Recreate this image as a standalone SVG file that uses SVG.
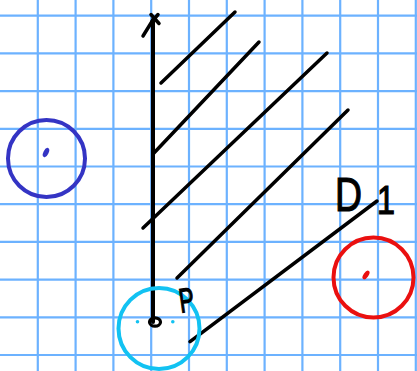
<svg xmlns="http://www.w3.org/2000/svg" width="417" height="371" viewBox="0 0 417 371">
<style>
.grid line{stroke:#6cb2ff;stroke-width:2.2}
.ink{stroke:#000;stroke-width:3.5;stroke-linecap:round;fill:none}
.lbl{font-family:"Liberation Sans",Arial,sans-serif;fill:#000;stroke:#000;stroke-width:1.2}
</style>
<rect width="417" height="371" fill="#fff"/>
<g class="grid" id="grid">
<line x1="37.8" y1="0" x2="37.8" y2="371"/>
<line x1="75.6" y1="0" x2="75.6" y2="371"/>
<line x1="113.4" y1="0" x2="113.4" y2="371"/>
<line x1="151.2" y1="0" x2="151.2" y2="371"/>
<line x1="189" y1="0" x2="189" y2="371"/>
<line x1="226.8" y1="0" x2="226.8" y2="371"/>
<line x1="264.6" y1="0" x2="264.6" y2="371"/>
<line x1="302.4" y1="0" x2="302.4" y2="371"/>
<line x1="340.2" y1="0" x2="340.2" y2="371"/>
<line x1="378" y1="0" x2="378" y2="371"/>
<line x1="415.8" y1="0" x2="415.8" y2="371"/>
<line x1="0" y1="15.7" x2="417" y2="15.7"/>
<line x1="0" y1="53.4" x2="417" y2="53.4"/>
<line x1="0" y1="91.1" x2="417" y2="91.1"/>
<line x1="0" y1="128.8" x2="417" y2="128.8"/>
<line x1="0" y1="166.5" x2="417" y2="166.5"/>
<line x1="0" y1="204.2" x2="417" y2="204.2"/>
<line x1="0" y1="241.9" x2="417" y2="241.9"/>
<line x1="0" y1="279.6" x2="417" y2="279.6"/>
<line x1="0" y1="317.3" x2="417" y2="317.3"/>
<line x1="0" y1="355" x2="417" y2="355"/>
</g>
<g id="hatching" class="ink">
<line x1="161" y1="83" x2="235" y2="12"/>
<line x1="153" y1="154" x2="259" y2="42"/>
<line x1="143" y1="228" x2="327" y2="53"/>
<line x1="177" y1="278" x2="348" y2="110"/>
</g>
<g id="axis" class="ink">
<line x1="153" y1="322" x2="153" y2="20" stroke-width="4"/>
<line x1="143" y1="36" x2="153.5" y2="19"/>
<line x1="151" y1="14.5" x2="159" y2="23.5"/>
<line x1="158" y1="14.5" x2="152" y2="21.5"/>
</g>
<g id="line-D1" class="ink">
<line x1="190" y1="341.7" x2="377" y2="201"/>
</g>
<g id="circle-blue">
<circle cx="46.5" cy="158.5" r="38.5" fill="none" stroke="#3434c4" stroke-width="4"/>
<ellipse cx="46" cy="152.5" rx="2.6" ry="5" transform="rotate(25 46 152.5)" fill="#3434c4"/>
</g>
<g id="circle-cyan">
<circle cx="159" cy="328.5" r="40.5" fill="none" stroke="#12c2f2" stroke-width="4"/>
<circle cx="137.5" cy="321.7" r="1.8" fill="#12c2f2"/>
<circle cx="172.8" cy="321.7" r="1.8" fill="#12c2f2"/>
<ellipse cx="155" cy="322" rx="5.5" ry="4.2" fill="none" stroke="#000" stroke-width="3.2"/>
</g>
<g id="circle-red">
<circle cx="373.5" cy="277.5" r="40" fill="none" stroke="#ea1010" stroke-width="4"/>
<ellipse cx="366" cy="275" rx="2.4" ry="5" transform="rotate(35 366 275)" fill="#ea1010"/>
</g>
<g id="labels">
<text class="lbl" x="179" y="312" font-size="34" transform="rotate(-8 186 300)" textLength="15" lengthAdjust="spacingAndGlyphs">P</text>
<text class="lbl" x="335" y="211" font-size="48" textLength="27" lengthAdjust="spacingAndGlyphs">D</text>
<text class="lbl" x="377" y="214" font-size="40" textLength="18" lengthAdjust="spacingAndGlyphs">1</text>
</g>
</svg>
